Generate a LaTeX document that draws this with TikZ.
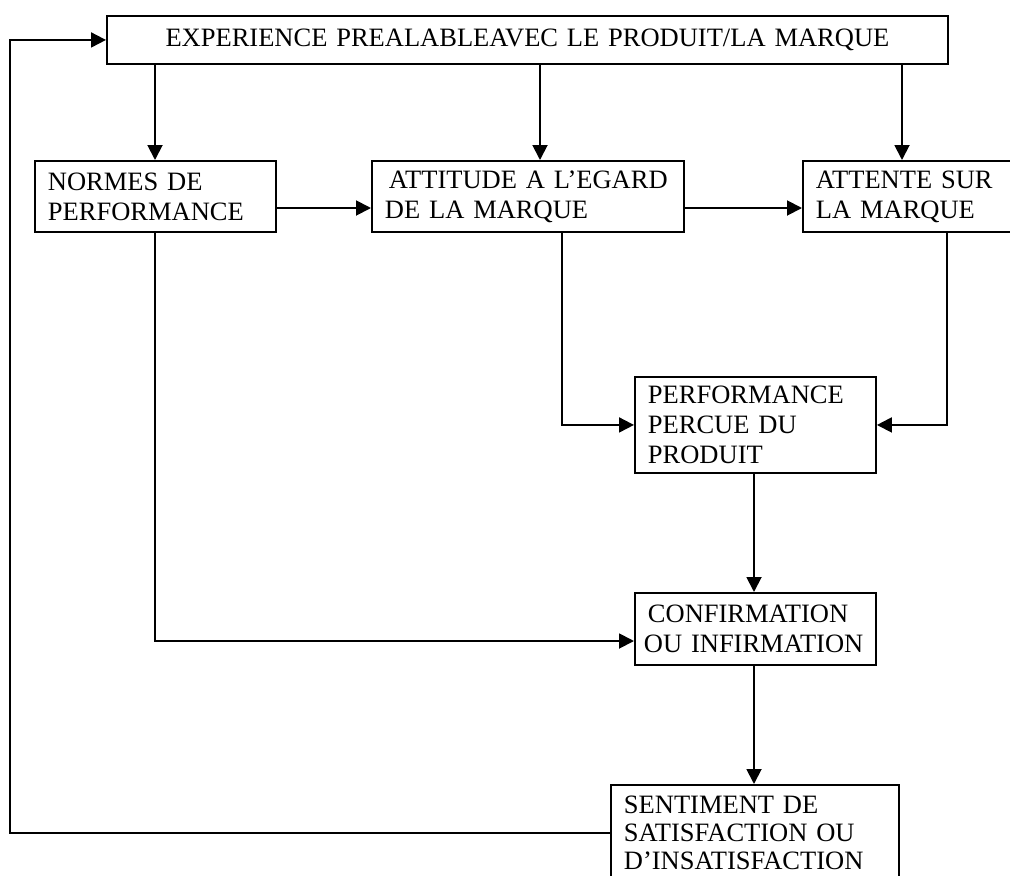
\documentclass[tikz,border=0pt]{standalone}
\usepackage{fontspec}
\setmainfont{Liberation Serif}
\usetikzlibrary{arrows.meta}

\begin{document}
\begin{tikzpicture}[x=1pt,y=-1pt,
  box/.style={draw,line width=1.9pt,anchor=north west,inner ysep=0pt,
    inner xsep=13pt,align=left,
    font=\fontsize{26.5}{30}\selectfont},
  link/.style={line width=1.9pt},
  arr/.style={link,-{Triangle[length=15pt,width=15pt]}}]
\useasboundingbox (0,0) rectangle (1010,876);

% boxes
\node[box,align=center,text width=815pt,minimum height=48pt] (exp) at (106,15)
  {EXPERIENCE PREALABLEAVEC LE PRODUIT/LA MARQUE};
\node[box,text width=215pt,minimum height=71pt] (norm) at (34,160)
  {NORMES DE\\PERFORMANCE};
\node[box,text width=286pt,minimum height=71pt] (att) at (371,160)
  {\hspace{4pt}ATTITUDE A L’EGARD\\DE LA MARQUE};
\node[box,text width=204pt,minimum height=71pt] (atn) at (802,160)
  {ATTENTE SUR\\LA MARQUE};
\node[box,text width=215pt,minimum height=96pt] (perf) at (634,376)
  {PERFORMANCE\\PERCUE DU\\PRODUIT};
\node[box,inner xsep=9pt,text width=223pt,minimum height=72pt] (conf) at (634,592)
  {\hspace{4pt}CONFIRMATION\\OU INFIRMATION};
\node[box,text width=262pt,minimum height=96pt,
  font=\fontsize{26.5}{28}\selectfont] (sent) at (610,784)
  {SENTIMENT DE\\SATISFACTION OU\\D’INSATISFACTION};

% guide positions for connectors
\coordinate (xA) at (155,0);
\coordinate (xB) at (540,0);
\coordinate (xC) at (902,0);
\coordinate (xD) at (562,0);
\coordinate (xE) at (947,0);
\coordinate (xF) at (754,0);
\coordinate (xL) at (10,0);
\coordinate (yH) at (0,208);
\coordinate (yC) at (0,641);

% connectors
\draw[arr] (exp.south -| xA) -- (norm.north -| xA);
\draw[arr] (exp.south -| xB) -- (att.north -| xB);
\draw[arr] (exp.south -| xC) -- (atn.north -| xC);
\draw[arr] (norm.east |- yH) -- (att.west |- yH);
\draw[arr] (att.east |- yH) -- (atn.west |- yH);
\draw[arr] (att.south -| xD) |- (perf.west);
\draw[arr] (atn.south -| xE) |- (perf.east);
\draw[arr] (perf.south -| xF) -- (conf.north -| xF);
\draw[arr] (norm.south -| xA) |- (conf.west |- yC);
\draw[arr] (conf.south -| xF) -- (sent.north -| xF);
\draw[arr] (sent.west) -| (exp.west -| xL) -- (exp.west);
\end{tikzpicture}
\end{document}
